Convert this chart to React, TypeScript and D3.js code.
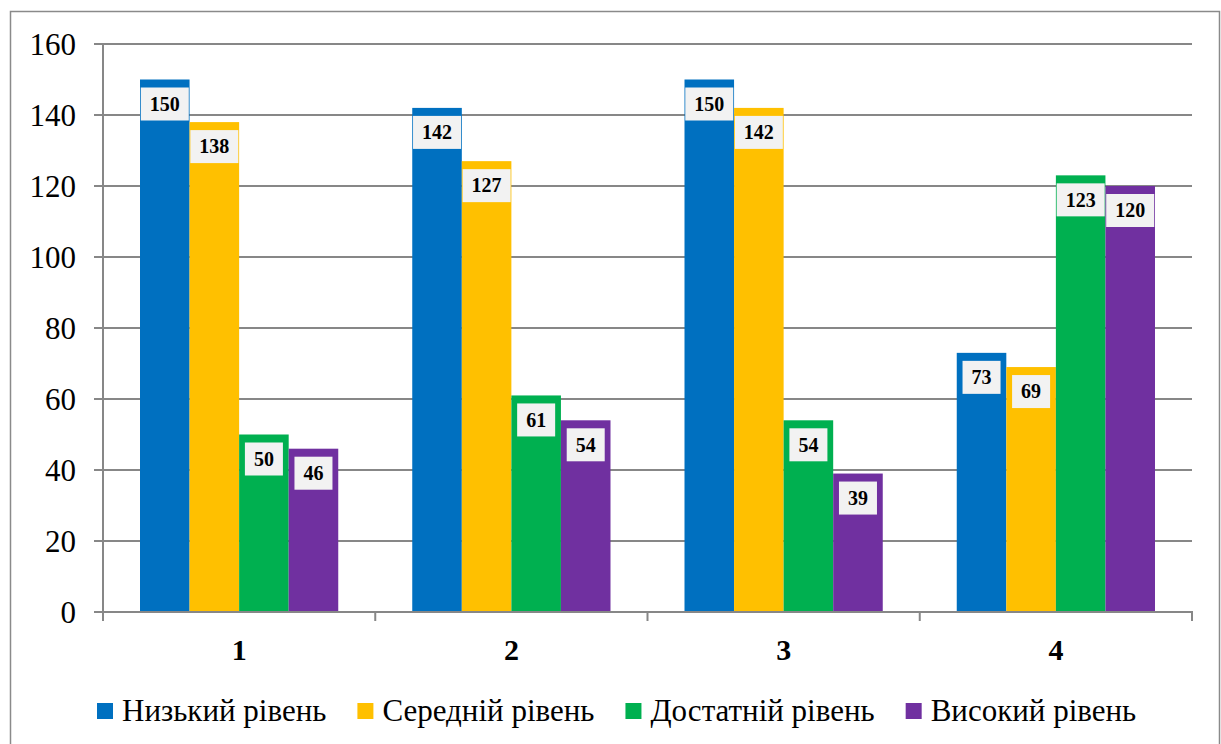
import React, { useEffect, useRef } from 'react';
import * as d3 from 'd3';

const categories = ['1', '2', '3', '4'];
const seriesNames = ['Низький рівень', 'Середній рівень', 'Достатній рівень', 'Високий рівень'];
const seriesColors = ['#0070C0', '#FFC000', '#00B050', '#7030A0'];
const low = [150, 142, 150, 73];
const middle = [138, 127, 142, 69];
const sufficient = [50, 61, 54, 123];
const high = [46, 54, 39, 120];
const yTicks = [0, 20, 40, 60, 80, 100, 120, 140, 160];

const W = 1221;
const H = 744;
const margin = { left: 103, right: 29, top: 44, bottom: 132 };
const font = "'Liberation Serif', 'Times New Roman', Times, serif";

const App: React.FC = () => {
  const ref = useRef<SVGGElement>(null);

  useEffect(() => {
    const series = [low, middle, sufficient, high];
    const g = d3.select(ref.current);
    g.selectAll('*').remove();

    const x0 = d3.scaleBand().domain(categories).range([margin.left, W - margin.right]);
    const groupPad = 37;
    const x1 = d3
      .scaleBand()
      .domain(d3.range(series.length).map(String))
      .range([groupPad, x0.bandwidth() - groupPad]);
    const y = d3.scaleLinear().domain([0, 160]).range([H - margin.bottom, margin.top]);

    // outer frame
    g.append('rect')
      .attr('x', 10.5)
      .attr('y', 11.5)
      .attr('width', W - 12)
      .attr('height', H + 20)
      .attr('fill', 'none')
      .attr('stroke', '#8a8a8a')
      .attr('stroke-width', 1.5);

    // gridlines
    g.append('g')
      .selectAll('line')
      .data(yTicks)
      .join('line')
      .attr('x1', margin.left - 9)
      .attr('x2', W - margin.right)
      .attr('y1', (d) => y(d))
      .attr('y2', (d) => y(d))
      .attr('stroke', '#878787')
      .attr('stroke-width', 2);

    g.append('g')
      .selectAll('text')
      .data(yTicks)
      .join('text')
      .attr('x', 76)
      .attr('y', (d) => y(d))
      .attr('dy', '0.34em')
      .attr('text-anchor', 'end')
      .attr('font-family', font)
      .attr('font-size', 31)
      .text((d) => d);

    // y axis
    g.append('line')
      .attr('x1', margin.left)
      .attr('x2', margin.left)
      .attr('y1', y(160))
      .attr('y2', y(0))
      .attr('stroke', '#878787')
      .attr('stroke-width', 2);

    // x ticks at category boundaries
    const bounds = categories.map((c) => x0(c) as number).concat([W - margin.right]);
    g.append('g')
      .selectAll('line')
      .data(bounds)
      .join('line')
      .attr('x1', (d) => d)
      .attr('x2', (d) => d)
      .attr('y1', y(0))
      .attr('y2', y(0) + 9)
      .attr('stroke', '#878787')
      .attr('stroke-width', 2);

    // bars
    const groups = g
      .append('g')
      .selectAll('g')
      .data(categories)
      .join('g')
      .attr('transform', (c) => `translate(${x0(c)},0)`);

    const cells = groups
      .selectAll('g')
      .data((c, ci) => series.map((s, si) => ({ si, v: s[ci] })))
      .join('g');

    cells
      .append('rect')
      .attr('x', (d) => x1(String(d.si)) as number)
      .attr('width', x1.bandwidth())
      .attr('y', (d) => y(d.v))
      .attr('height', (d) => y(0) - y(d.v))
      .attr('fill', (d) => seriesColors[d.si]);

    cells
      .append('rect')
      .attr('class', 'box')
      .attr('y', (d) => y(d.v) + 8)
      .attr('height', 33)
      .attr('fill', '#f2f2f2');

    cells
      .append('text')
      .attr('x', (d) => (x1(String(d.si)) as number) + x1.bandwidth() / 2)
      .attr('y', (d) => y(d.v) + 8 + 16.5)
      .attr('dy', '0.34em')
      .attr('text-anchor', 'middle')
      .attr('font-family', font)
      .attr('font-weight', 'bold')
      .attr('font-size', 20)
      .text((d) => d.v);

    cells.each(function (d) {
      const cell = d3.select(this as SVGGElement);
      const t = cell.select('text').node() as SVGTextElement;
      const w = Math.min(t.getComputedTextLength() + 18, x1.bandwidth());
      const mid = (x1(String(d.si)) as number) + x1.bandwidth() / 2;
      cell.select('rect.box').attr('x', mid - w / 2).attr('width', w);
    });

    // x axis line
    g.append('line')
      .attr('x1', margin.left - 9)
      .attr('x2', W - margin.right + 1)
      .attr('y1', y(0))
      .attr('y2', y(0))
      .attr('stroke', '#878787')
      .attr('stroke-width', 2);

    // category labels
    g.append('g')
      .selectAll('text')
      .data(categories)
      .join('text')
      .attr('x', (c) => (x0(c) as number) + x0.bandwidth() / 2)
      .attr('y', 660)
      .attr('text-anchor', 'middle')
      .attr('font-family', font)
      .attr('font-weight', 'bold')
      .attr('font-size', 30)
      .text((c) => c);

    // legend
    const items = g.append('g').selectAll('g').data(seriesNames).join('g');
    items
      .append('rect')
      .attr('width', 16)
      .attr('height', 16)
      .attr('y', 703)
      .attr('fill', (d, i) => seriesColors[i]);
    const labels = items
      .append('text')
      .attr('x', 25)
      .attr('y', 721)
      .attr('font-family', font)
      .attr('font-size', 31)
      .text((d) => d);
    let cx = 97;
    labels.each(function () {
      const w = (this as SVGTextElement).getComputedTextLength();
      d3.select((this as SVGTextElement).parentNode as SVGGElement).attr('transform', `translate(${cx},0)`);
      cx += 25 + w + 31;
    });
  }, []);

  return (
    <svg width={W} height={H} style={{ position: 'absolute', left: 0, top: 0, background: '#fff' }}>
      <g ref={ref} />
    </svg>
  );
};

export default App;
